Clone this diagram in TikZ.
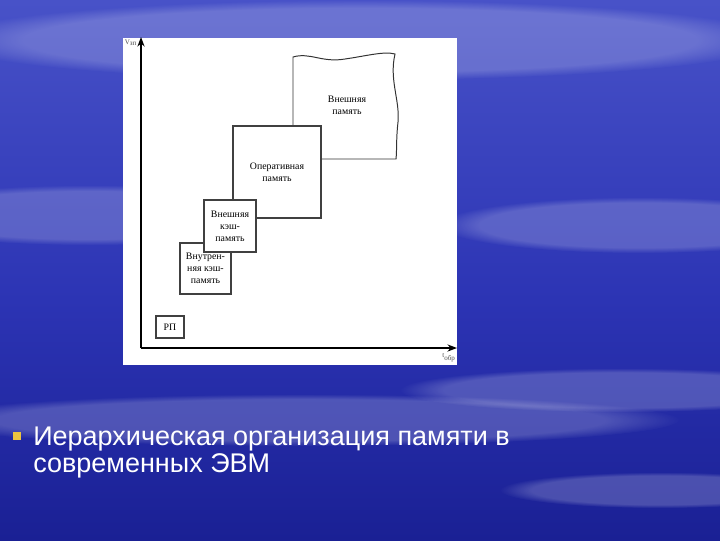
\documentclass[tikz,border=0pt]{standalone}
\usepackage{fontspec}
\setmainfont{Liberation Serif}
\newfontfamily\slidefont{Liberation Sans}
\usepackage{tikz}
\usetikzlibrary{arrows.meta, fadings}
\definecolor{skyblue}{RGB}{72,82,200}
\definecolor{deepblue}{RGB}{44,52,180}
\definecolor{darkblue}{RGB}{26,32,148}
\definecolor{bulletyellow}{RGB}{236,196,64}
\tikzset{memblock/.style={rectangle,draw=black!75,line width=0.8pt,fill=white,align=center,inner sep=1pt,font=\fontsize{7}{8.6}\selectfont},
         memtext/.style={align=center,font=\fontsize{7}{8.4}\selectfont},
         memline/.style={draw=black!80,line width=0.7pt},
         axis/.style={-{Stealth[length=2.4mm,width=1.8mm]},line width=1pt},
         axislabel/.style={font=\fontsize{5}{5}\selectfont,text=black!70,inner sep=0pt},
         haze/.style={fill=white,opacity=0.2,path fading=circle with fuzzy edge 20 percent},
         slidetitle/.style={align=left,text=white,inner sep=0pt,font=\slidefont\fontsize{19.2}{18.6}\selectfont}}
\begin{document}
\begin{tikzpicture}[x=0.025cm,y=-0.025cm]
    \useasboundingbox (0,0) rectangle (720,540);
    % slide background
    \shade[top color=skyblue,bottom color=deepblue] (0,0) rectangle (720,300);
    \shade[top color=deepblue,bottom color=darkblue] (0,300) rectangle (720,540);
    \fill[haze] (360,40) ellipse [x radius=420, y radius=40];
    \fill[haze] (90,215) ellipse [x radius=220, y radius=30];
    \fill[haze] (640,225) ellipse [x radius=200, y radius=28];
    \fill[haze] (300,420) ellipse [x radius=380, y radius=26];
    \fill[haze] (620,390) ellipse [x radius=220, y radius=22];
    \fill[haze] (660,490) ellipse [x radius=160, y radius=18];
    % picture panel
    \fill[white] (123,38) rectangle (457,365);
    % axes
    \coordinate (origin) at (141,348);
    \coordinate (vtop) at (141,37);
    \coordinate (tend) at (457,348);
    \draw[axis] (origin) -- (vtop);
    \draw[axis] (origin) -- (tend);
    \node (vlabel) [axislabel] at (131,43) {V\textsubscript{зп}};
    \node (tlabel) [axislabel] at (449,358) {t\textsubscript{обр}};
    % external memory with torn edges
    \draw[memline,fill=white] (293,126) -- (293,57)
        .. controls (310,52) and (322,63) .. (345,59)
        .. controls (366,56) and (384,51) .. (395,54)
        .. controls (389,80) and (400,100) .. (398,122)
        .. controls (396,140) and (397,150) .. (396,159) -- (321,159);
    \node (extmem) [memtext] at (347,105) {Внешняя\\память};
    % levels of the hierarchy
    \node (ram) [memblock, minimum width=2.2cm, minimum height=2.3cm] at (277,172) {Оперативная\\память};
    \node (l1cache) [memblock, minimum width=1.275cm, minimum height=1.275cm] at (205.5,268.5) {Внутрен-\\няя кэш-\\память};
    \node (l2cache) [memblock, minimum width=1.3cm, minimum height=1.3cm] at (230,226) {Внешняя\\кэш-\\память};
    \node (regs) [memblock, minimum width=0.7cm, minimum height=0.55cm] at (170,327) {РП};
    % caption
    \node (title) [slidetitle, anchor=north west] at (33,427) {Иерархическая организация памяти в\\современных ЭВМ};
    \fill[bulletyellow] (13,432) rectangle (21,440);
\end{tikzpicture}
\end{document}
